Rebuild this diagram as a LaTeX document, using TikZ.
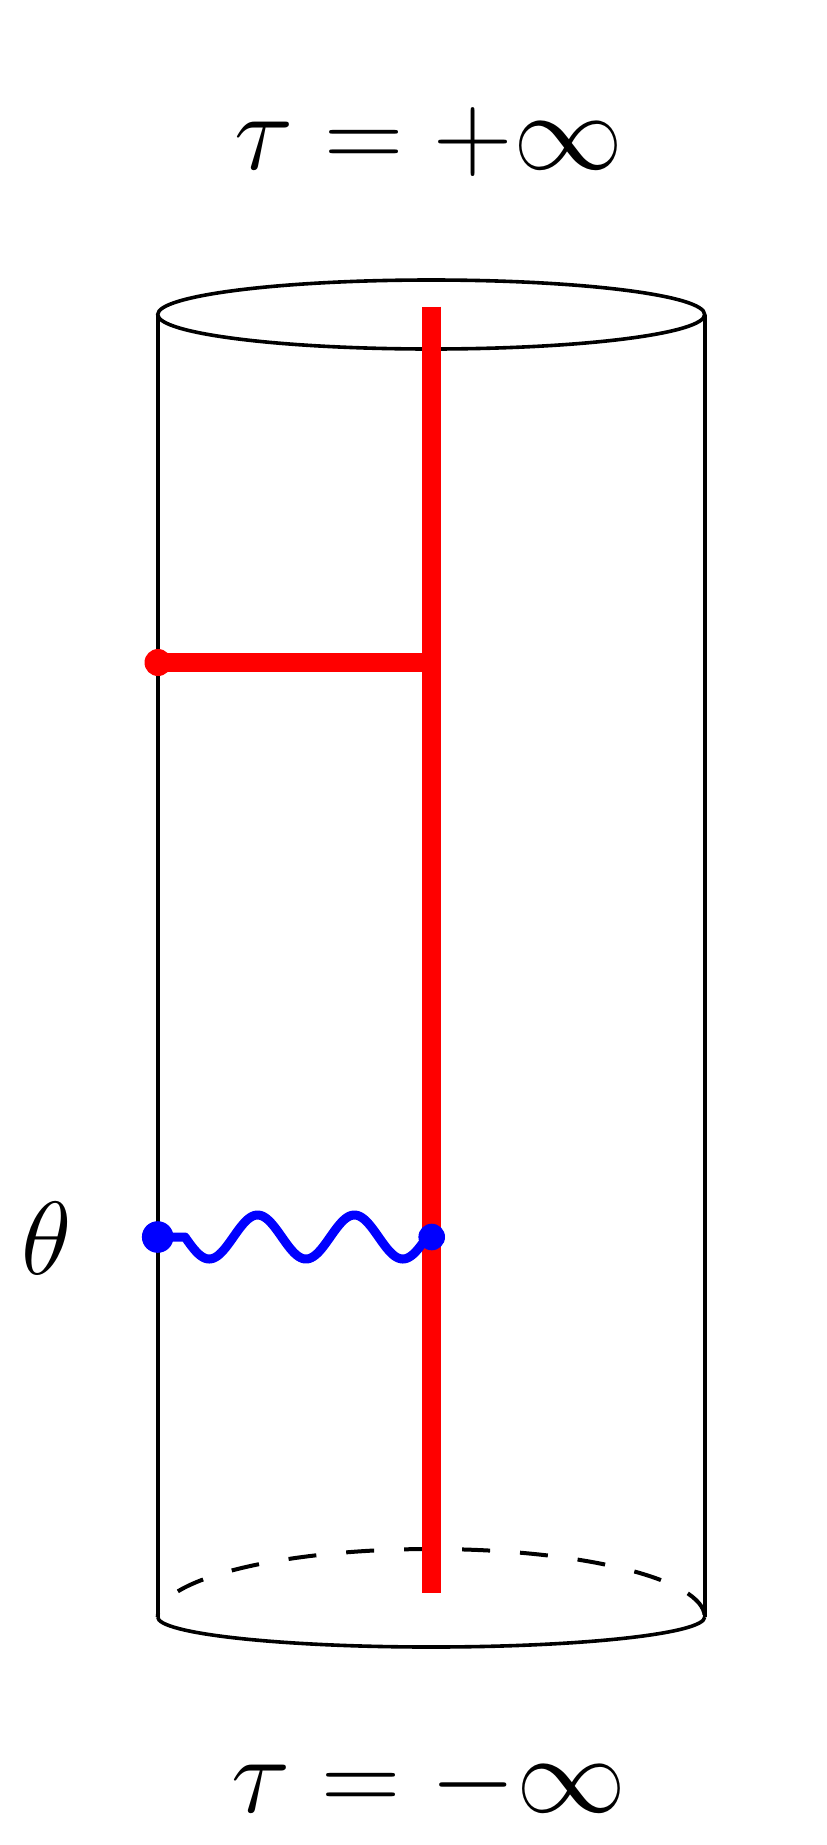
\RequirePackage{fix-cm}
\documentclass[tikz,border=0pt]{standalone}
\begin{document}
\begin{tikzpicture}[x=1pt,y=-1pt,
  rim/.style={line width=3.6pt, black},
  backrim/.style={line width=4pt, black, dash pattern=on 28pt off 30pt, dash phase=24pt},
  redline/.style={line width=19pt, red, line cap=butt},
  wave/.style={line width=9pt, blue, line cap=round, line join=round},
  reddot/.style={fill=red},
  bluedot/.style={fill=blue},
  biglabel/.style={anchor=base, inner sep=0pt, font=\fontsize{110}{130}\selectfont},
  sidelabel/.style={anchor=base, inner sep=0pt, font=\fontsize{104}{120}\selectfont}]
\useasboundingbox (0,0) rectangle (827,1845);
% named points
\coordinate (TL) at (157.7,314.5);
\coordinate (TR) at (704.7,314.5);
\coordinate (TC) at (431.2,314.5);
\coordinate (BL) at (157.7,1617);
\coordinate (BR) at (704.7,1617);
\coordinate (Rtop) at (431.7,306.5);
\coordinate (Rbot) at (431.7,1593);
\coordinate (Hleft) at (158,662.5);
\coordinate (Hright) at (431.7,662.5);
\coordinate (Wleft) at (157.7,1237);
\coordinate (Wright) at (431.7,1237);
% cylinder
\draw[rim] (TC) ellipse [x radius=273.5pt, y radius=34.5pt];
\draw[rim] (TL) -- (BL);
\draw[rim] (TR) -- (BR);
\draw[rim] (BL) arc [start angle=180, end angle=360, x radius=273.5pt, y radius=30pt];
\draw[backrim] (BL) arc [start angle=180, end angle=0, x radius=273.5pt, y radius=68pt];
% red line and branch
\draw[redline] (Rtop) -- (Rbot);
\draw[redline] (Hleft) -- (Hright);
\fill[reddot] (Hleft) circle [radius=13.5pt];
% blue wavy line
\draw[wave] (Wleft) -- (185,1237)
  -- plot[domain=185:427, samples=160, smooth] (\x, {1237 + 22*sin(3.719*(\x-185))})
  -- (Wright);
\fill[bluedot] (Wleft) circle [radius=15.8pt];
\fill[bluedot] (Wright) circle [radius=13.3pt];
% labels
\node[biglabel] (top) at (429,169.5) {$\tau = +\infty$};
\node[biglabel] (bot) at (429,1812.5) {$\tau = -\infty$};
\node[sidelabel] (theta) at (47,1274) {$\theta$};
\end{tikzpicture}
\end{document}
